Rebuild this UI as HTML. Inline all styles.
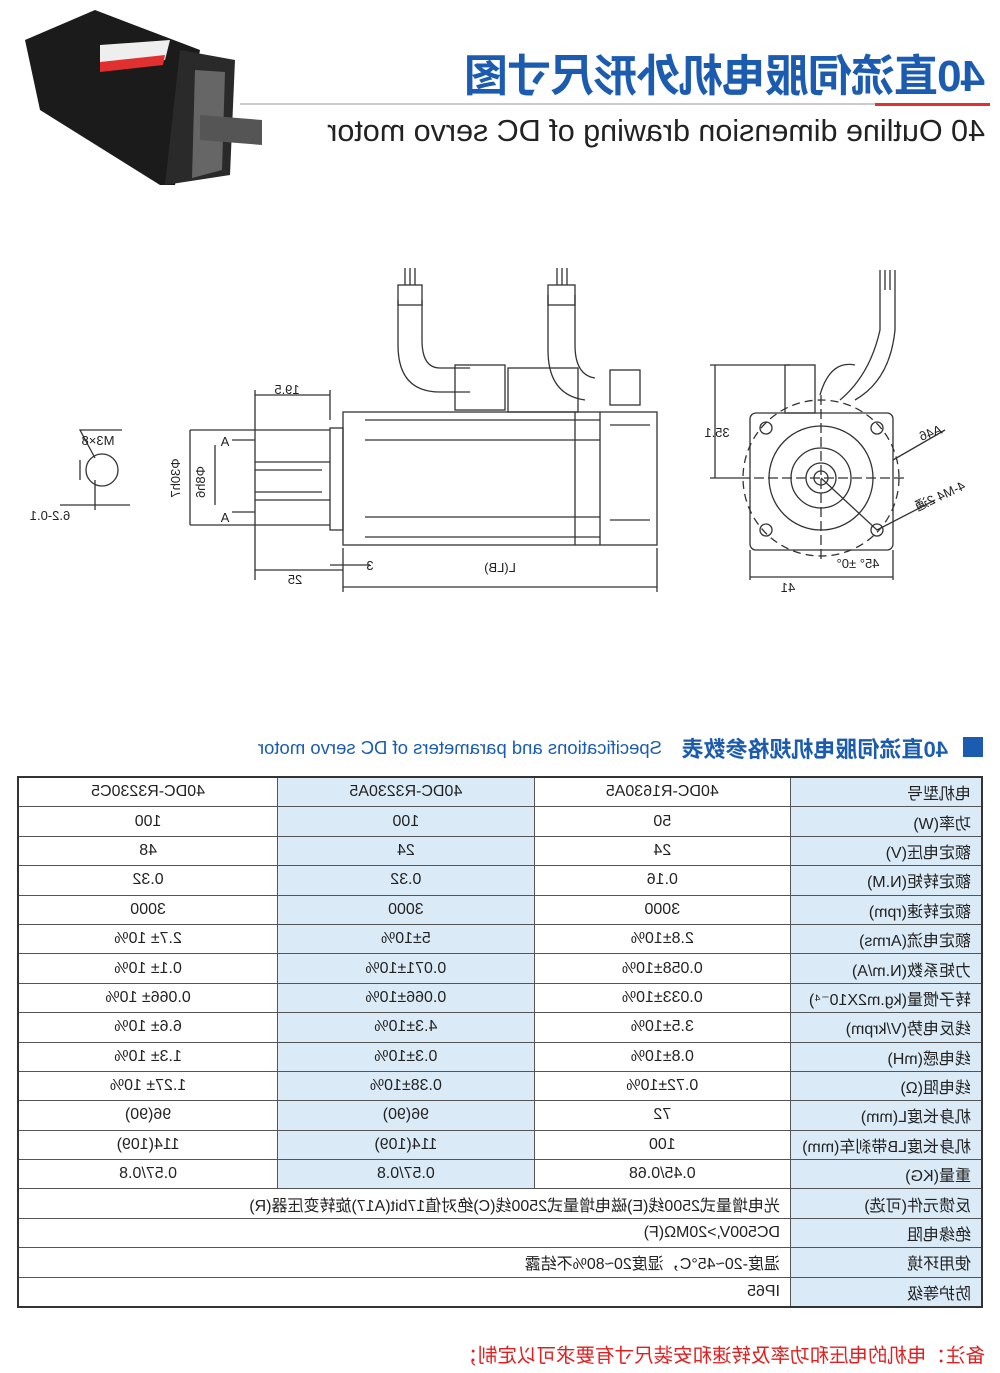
<!DOCTYPE html>
<html><head><meta charset="utf-8"><style>
html,body{margin:0;padding:0;background:#fff}
#p{position:relative;width:1000px;height:1373px;overflow:hidden;transform:scaleX(-1);font-family:"Liberation Sans","Noto Sans CJK SC",sans-serif}
.a{position:absolute;white-space:nowrap}
table{position:absolute;left:17px;top:776px;width:966px;border-collapse:collapse;border:2px solid #333;font-size:16px;color:#222}
td{border:1px solid #555;height:28.4px;padding:0;text-align:center}
td.l{text-align:left;padding-left:10px;background:#dbeaf7;width:180px}
td.b{background:#dbeaf7}
td.m{text-align:left;padding-left:10px}
</style></head><body><div id="p">
<div class="a" style="left:15px;top:40px;font-size:44px;font-weight:bold;color:#1c5cb0;letter-spacing:-1px">40直流伺服电机外形尺寸图</div>
<div class="a" style="left:10px;top:103px;width:750px;height:2px;background:#ccc"></div>
<div class="a" style="left:10px;top:103px;width:115px;height:3px;background:#e03030"></div>
<div class="a" style="left:15px;top:114px;font-size:30.5px;color:#222">40 Outline dimension drawing of DC servo motor</div>
<svg class="a" style="left:0;top:0" width="1000" height="700">
<g transform="translate(1000,0) scale(-1,1)" fill="none" stroke="#333" stroke-width="1.3">
<g stroke="none">
<polygon points="25,40 95,10 200,50 175,185 160,185 40,110" fill="#1b1b1b"/>
<polygon points="180,50 235,60 230,175 165,185" fill="#2a2a2a"/>
<polygon points="195,70 225,72 222,170 192,178" fill="#666"/>
<polygon points="200,115 262,120 262,145 200,140" fill="#555"/>
<polygon points="100,45 170,40 165,60 100,70" fill="#eee"/>
<polygon points="100,62 165,55 163,65 100,72" fill="#e03030"/>
</g>
<rect x="343" y="412" width="314" height="133"/>
<rect x="330" y="428" width="13" height="102"/>
<path d="M255 462 H330 M255 500 H330 M255 470 H322 M255 492 H322"/>
<path d="M365 420 H600 M365 440 H600 M365 517 H600 M365 537 H600 M575 412 V545 M600 412 V545 M610 425 H650 M610 520 H650"/>
<rect x="455" y="365" width="50" height="45"/><rect x="508" y="368" width="70" height="44"/>
<path d="M398 300 V345 Q398 392 440 392 H470 M422 300 V340 Q422 368 440 368 H470"/>
<path d="M548 295 V350 Q548 395 585 400 M575 295 V345 Q575 375 595 378"/>
<rect x="398" y="285" width="24" height="20"/><rect x="548" y="285" width="27" height="20"/>
<path d="M405 268 V285 M410 268 V285 M415 268 V285 M557 268 V285 M562 268 V285 M567 268 V285"/>
<rect x="610" y="370" width="30" height="35"/>
<path d="M255 395 H330 M255 390 V580 M330 390 V420 M190 430 H330 M190 525 H330 M190 430 V525 M215 445 V505 M255 570 H343 M343 548 V592 M343 587 H657 M657 548 V592 M330 565 H370"/>
<path d="M232 440 H255 M232 512 H255"/>
<circle cx="102" cy="470" r="16"/>
<path d="M60 505 H130 M95 480 V510 M80 460 V480 M122 430 H80 L95 458"/>
<rect x="750" y="413" width="143" height="137" rx="6"/>
<circle cx="821" cy="478" r="78" stroke-dasharray="8 5"/>
<circle cx="821" cy="478" r="52"/><circle cx="821" cy="478" r="30"/><circle cx="821" cy="478" r="15"/><circle cx="821" cy="478" r="7"/>
<circle cx="766" cy="428" r="6"/><circle cx="877" cy="428" r="6"/><circle cx="766" cy="530" r="6"/><circle cx="877" cy="530" r="6"/>
<path d="M740 478 H905 M821 395 V560" stroke-dasharray="10 4"/>
<rect x="785" y="365" width="30" height="48"/><path d="M820 395 Q830 360 855 365 M840 400 Q870 375 880 330 V285 M855 400 Q890 380 895 330 V285 M880 270 V290 M885 270 V290 M890 270 V290 M895 270 V290"/>
<path d="M710 365 H790 M710 478 H740 M715 365 V478 M750 550 V580 M893 550 V580 M750 577 H893 M821 478 L877 530 L935 500 M893 460 L945 430"/>
</g>
<g fill="#222" font-family="Liberation Sans,sans-serif" font-size="13" text-anchor="middle">
<text x="713" y="394">19.5</text><text x="630" y="570">3</text><text x="500" y="572">L(LB)</text><text x="705" y="584">25</text>
<text x="283" y="437">35.1</text><text x="212" y="592">41</text><text x="142" y="568">45° ±0°</text>
<text x="68" y="437" transform="rotate(20 68 437)">A46</text><text x="58" y="500" transform="rotate(25 58 500)">4-M4 2通</text>
<text x="775" y="446">A</text><text x="775" y="522">A</text>
<text x="902" y="445">M3×8</text><text x="950" y="520">6.2-0.1</text>
<text x="795" y="482" transform="rotate(90 795 482)">Φ8h6</text><text x="820" y="478" transform="rotate(90 820 478)">Φ30h7</text>
</g></svg>
<div class="a" style="left:17px;top:737px;width:20px;height:20px;background:#1c5cb0"></div>
<div class="a" style="left:52px;top:732px;font-size:22px;font-weight:bold;color:#1c5cb0">40直流伺服电机规格参数表</div>
<div class="a" style="left:338px;top:737px;font-size:18.5px;color:#1c5cb0">Specifications and parameters of DC servo motor</div>
<table>
<tr><td class="l">电机型号</td><td>40DC-R1630A5</td><td class="b">40DC-R3230A5</td><td>40DC-R3230C5</td></tr>
<tr><td class="l">功率(W)</td><td>50</td><td class="b">100</td><td>100</td></tr>
<tr><td class="l">额定电压(V)</td><td>24</td><td class="b">24</td><td>48</td></tr>
<tr><td class="l">额定转矩(N.M)</td><td>0.16</td><td class="b">0.32</td><td>0.32</td></tr>
<tr><td class="l">额定转速(rpm)</td><td>3000</td><td class="b">3000</td><td>3000</td></tr>
<tr><td class="l">额定电流(Arms)</td><td>2.8±10%</td><td class="b">5±10%</td><td>2.7± 10%</td></tr>
<tr><td class="l">力矩系数(N.m/A)</td><td>0.058±10%</td><td class="b">0.071±10%</td><td>0.1± 10%</td></tr>
<tr><td class="l">转子惯量(kg.m2X10⁻⁴)</td><td>0.033±10%</td><td class="b">0.066±10%</td><td>0.066± 10%</td></tr>
<tr><td class="l">线反电势(V/krpm)</td><td>3.5±10%</td><td class="b">4.3±10%</td><td>6.6± 10%</td></tr>
<tr><td class="l">线电感(mH)</td><td>0.8±10%</td><td class="b">0.3±10%</td><td>1.3± 10%</td></tr>
<tr><td class="l">线电阻(Ω)</td><td>0.72±10%</td><td class="b">0.38±10%</td><td>1.27± 10%</td></tr>
<tr><td class="l">机身长度L(mm)</td><td>72</td><td class="b">96(90)</td><td>96(90)</td></tr>
<tr><td class="l">机身长度LB带刹车(mm)</td><td>100</td><td class="b">114(109)</td><td>114(109)</td></tr>
<tr><td class="l">重量(KG)</td><td>0.45/0.68</td><td class="b">0.57/0.8</td><td>0.57/0.8</td></tr>
<tr><td class="l">反馈元件(可选)</td><td class="m" colspan="3">光电增量式2500线(E)磁电增量式2500线(C)绝对值17bit(A17)旋转变压器(R)</td></tr>
<tr><td class="l">绝缘电阻</td><td class="m" colspan="3">DC500V,&gt;20MΩ(F)</td></tr>
<tr><td class="l">使用环境</td><td class="m" colspan="3">温度-20~45°C，湿度20~80%不结露</td></tr>
<tr><td class="l">防护等级</td><td class="m" colspan="3">IP65</td></tr>
</table>
<div class="a" style="left:15px;top:1339px;font-size:19.5px;color:#e02020">备注：电机的电压和功率及转速和安装尺寸有要求可以定制；</div>
</div></body></html>
